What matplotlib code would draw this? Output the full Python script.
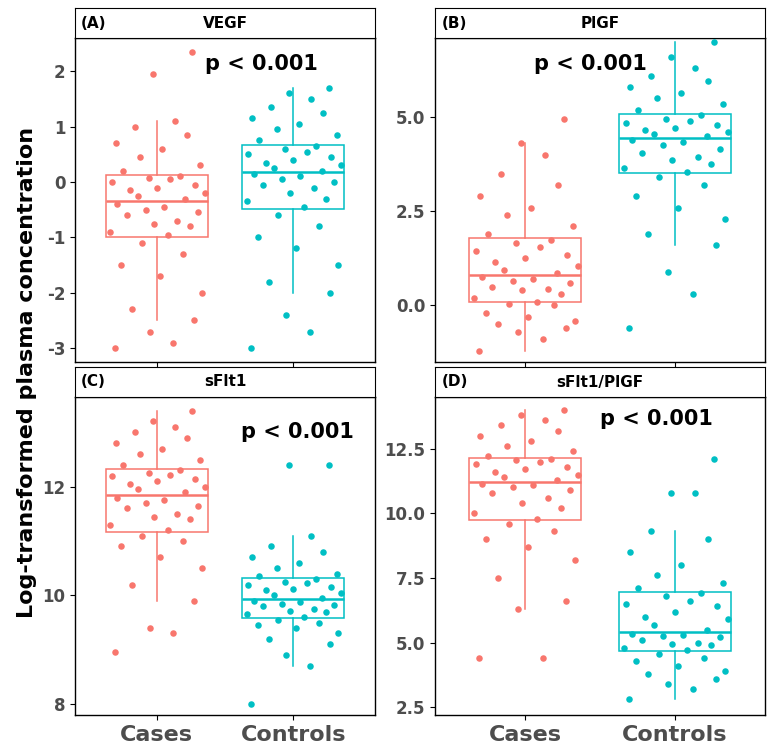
import matplotlib
matplotlib.use("Agg")
import matplotlib.pyplot as plt

groups = ["Cases", "Controls"]
colors = ["#F8766D", "#00BFC4"]
panel_labels = ["(A)", "(B)", "(C)", "(D)"]
panel_titles = ["VEGF", "PlGF", "sFlt1", "sFlt1/PlGF"]
p_texts = ["p < 0.001"] * 4

vegf_cases = [-3.0, -2.9, -2.7, -2.5, -2.3, -2.0, -1.7, -1.5, -1.3, -1.1,
              -0.95, -0.9, -0.8, -0.75, -0.7, -0.6, -0.55, -0.5, -0.45, -0.4,
              -0.3, -0.25, -0.2, -0.15, -0.1, -0.05, 0.0, 0.05, 0.08, 0.1,
              0.2, 0.3, 0.45, 0.6, 0.7, 0.85, 1.0, 1.1, 1.95, 2.35]
vegf_controls = [-3.0, -2.7, -2.4, -2.0, -1.8, -1.5, -1.2, -1.0, -0.8, -0.6,
                 -0.45, -0.35, -0.3, -0.2, -0.1, -0.05, 0.0, 0.05, 0.1, 0.15,
                 0.2, 0.25, 0.3, 0.35, 0.4, 0.45, 0.5, 0.55, 0.6, 0.65,
                 0.75, 0.85, 0.95, 1.05, 1.15, 1.25, 1.35, 1.5, 1.6, 1.7]
plgf_cases = [-1.2, -0.9, -0.7, -0.6, -0.5, -0.4, -0.3, -0.2, 0.0, 0.05,
              0.1, 0.2, 0.3, 0.4, 0.45, 0.5, 0.6, 0.65, 0.7, 0.75,
              0.85, 0.95, 1.05, 1.15, 1.25, 1.35, 1.45, 1.55, 1.65, 1.75,
              1.9, 2.1, 2.4, 2.6, 2.9, 3.2, 3.5, 4.0, 4.3, 4.95]
plgf_controls = [-0.6, 0.3, 0.9, 1.6, 1.9, 2.3, 2.6, 2.9, 3.2, 3.4,
                 3.55, 3.65, 3.75, 3.85, 3.95, 4.05, 4.15, 4.25, 4.35, 4.4,
                 4.5, 4.55, 4.6, 4.65, 4.7, 4.8, 4.85, 4.9, 4.95, 5.05,
                 5.2, 5.35, 5.5, 5.65, 5.8, 5.95, 6.1, 6.3, 6.6, 7.0]
sflt_cases = [8.95, 9.3, 9.4, 9.9, 10.2, 10.5, 10.7, 10.9, 11.0, 11.1,
              11.2, 11.3, 11.4, 11.45, 11.5, 11.6, 11.65, 11.7, 11.75, 11.8,
              11.9, 11.95, 12.0, 12.05, 12.1, 12.15, 12.2, 12.22, 12.25, 12.3,
              12.4, 12.5, 12.6, 12.7, 12.8, 12.9, 13.0, 13.1, 13.2, 13.4]
sflt_controls = [8.0, 8.7, 8.9, 9.1, 9.2, 9.3, 9.4, 9.45, 9.5, 9.55,
                 9.6, 9.65, 9.7, 9.72, 9.75, 9.8, 9.82, 9.85, 9.88, 9.9,
                 9.95, 10.0, 10.05, 10.1, 10.12, 10.15, 10.2, 10.22, 10.25, 10.3,
                 10.35, 10.4, 10.5, 10.6, 10.7, 10.8, 10.9, 11.1, 12.4, 12.4]
ratio_cases = [4.4, 4.4, 6.3, 6.6, 7.5, 8.2, 8.7, 9.0, 9.3, 9.6,
               9.8, 10.0, 10.2, 10.4, 10.6, 10.8, 10.9, 11.0, 11.1, 11.15,
               11.3, 11.4, 11.5, 11.6, 11.7, 11.8, 11.9, 12.0, 12.05, 12.1,
               12.2, 12.4, 12.6, 12.8, 13.0, 13.2, 13.4, 13.6, 13.8, 14.0]
ratio_controls = [2.8, 3.2, 3.4, 3.6, 3.8, 3.9, 4.1, 4.3, 4.4, 4.55,
                  4.7, 4.8, 4.9, 4.95, 5.0, 5.1, 5.2, 5.25, 5.3, 5.35,
                  5.5, 5.7, 5.9, 6.0, 6.2, 6.4, 6.5, 6.6, 6.8, 6.9,
                  7.1, 7.3, 7.6, 8.0, 8.5, 9.0, 9.3, 10.8, 10.8, 12.1]

data = [(vegf_cases, vegf_controls), (plgf_cases, plgf_controls),
        (sflt_cases, sflt_controls), (ratio_cases, ratio_controls)]

# fixed horizontal jitter pattern
jitter = [-0.31, 0.12, -0.05, 0.27, -0.18, 0.33, 0.02, -0.26, 0.19, -0.11,
          0.08, -0.34, 0.24, -0.02, 0.15, -0.22, 0.3, -0.08, 0.05, -0.29,
          0.21, -0.14, 0.35, -0.2, 0.0, 0.28, -0.33, 0.1, -0.06, 0.17,
          -0.25, 0.32, -0.12, 0.04, -0.3, 0.22, -0.16, 0.13, -0.03, 0.26]

ylims = [(-3.25, 2.6), (-1.5, 7.1), (7.8, 13.65), (2.2, 14.5)]
yticks = [[-3, -2, -1, 0, 1, 2], [0, 2.5, 5.0], [8, 10, 12], [2.5, 5.0, 7.5, 10.0, 12.5]]
yticklabels = [["-3", "-2", "-1", "0", "1", "2"], ["0.0", "2.5", "5.0"], ["8", "10", "12"],
               ["2.5", "5.0", "7.5", "10.0", "12.5"]]
ptext_pos = [(0.62, 0.92), (0.47, 0.92), (0.74, 0.89), (0.67, 0.93)]

W, H = 771, 744
rects = [(75, 38, 375, 362), (435, 38, 765, 362), (75, 397, 375, 715), (435, 397, 765, 715)]

fig = plt.figure(figsize=(7.71, 7.44), dpi=100)
for i, (x0, y0, x1, y1) in enumerate(rects):
    ax = fig.add_axes([x0 / W, 1 - y1 / H, (x1 - x0) / W, (y1 - y0) / H])
    for j, vals in enumerate(data[i]):
        xs = [j + 1 + jitter[k % len(jitter)] for k in range(len(vals))]
        ax.scatter(xs, vals, s=22, color=colors[j], zorder=3, linewidths=0)
        ax.boxplot([vals], positions=[j + 1], widths=0.75, showfliers=False,
                   patch_artist=True,
                   boxprops=dict(facecolor="none", edgecolor=colors[j], linewidth=1.1),
                   medianprops=dict(color=colors[j], linewidth=1.8),
                   whiskerprops=dict(color=colors[j], linewidth=1.1),
                   capprops=dict(linewidth=0))
    ax.set_xlim(0.4, 2.6)
    ax.set_ylim(*ylims[i])
    ax.set_yticks(yticks[i])
    ax.set_yticklabels(yticklabels[i], fontsize=12, fontweight="bold", color="#4d4d4d")
    ax.set_xticks([1, 2])
    if i >= 2:
        ax.set_xticklabels(groups, fontsize=16, fontweight="bold", color="#4d4d4d")
    else:
        ax.set_xticklabels([])
    for sp in ax.spines.values():
        sp.set_linewidth(1.0)
    ax.text(*ptext_pos[i], p_texts[i], transform=ax.transAxes, ha="center", va="center",
            fontsize=15, fontweight="bold")
    # strip
    sax = fig.add_axes([x0 / W, 1 - y0 / H, (x1 - x0) / W, 30 / H])
    sax.set_xticks([]); sax.set_yticks([])
    sax.text(0.02, 0.5, panel_labels[i], transform=sax.transAxes, ha="left", va="center",
             fontsize=11, fontweight="bold")
    sax.text(0.5, 0.5, panel_titles[i], transform=sax.transAxes, ha="center", va="center",
             fontsize=11, fontweight="bold")

fig.text(0.035, 0.5, "Log-transformed plasma concentration", rotation=90,
         ha="center", va="center", fontsize=16, fontweight="bold")
fig.savefig("out.png", dpi=100)
